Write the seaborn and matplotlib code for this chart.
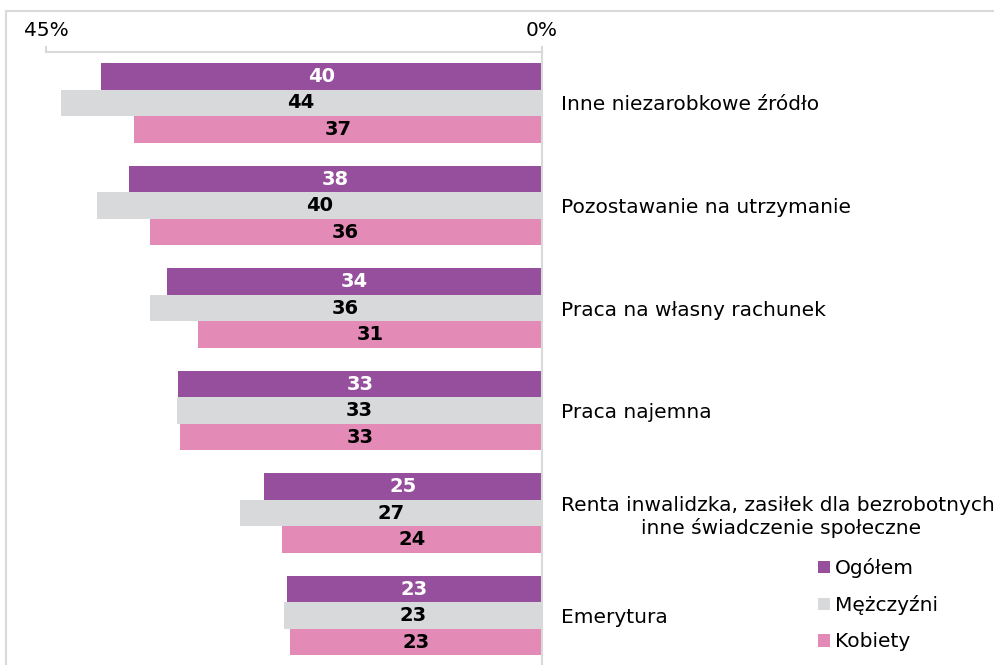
import pandas as pd
import matplotlib.pyplot as plt
import seaborn as sns
from matplotlib.patches import Rectangle

kategorie = ['Inne niezarobkowe źródło',
             'Pozostawanie na utrzymanie',
             'Praca na własny rachunek',
             'Praca najemna',
             'Renta inwalidzka, zasiłek dla bezrobotnych,\ninne świadczenie społeczne',
             'Emerytura']
serie = ['Ogółem', 'Mężczyźni', 'Kobiety']
ogolem = [40.0, 37.5, 34.0, 33.0, 25.2, 23.1]
mezczyzni = [43.7, 40.4, 35.6, 33.1, 27.4, 23.4]
kobiety = [37.0, 35.6, 31.2, 32.9, 23.6, 22.9]
kolory = ['#954F9C', '#D8D9DB', '#E38AB7']
kolory_etykiet = ['white', 'black', 'black']
ticki = [45, 0]

df = pd.DataFrame({
    'kategoria': kategorie * 3,
    'seria': [s for s in serie for _ in kategorie],
    'wartosc': ogolem + mezczyzni + kobiety,
})

sns.set_style('white')
plt.rcParams['font.family'] = ['DejaVu Sans']
plt.rcParams['text.color'] = 'black'

fig = plt.figure(figsize=(9.95, 6.65), dpi=100)
ax = fig.add_axes([46.3 / 995, -2 / 665, 495.4 / 995, 615.3 / 665])

sns.barplot(data=df, y='kategoria', x='wartosc', hue='seria', orient='h',
            palette=kolory, width=0.775, linewidth=0, saturation=1, ax=ax)

ax.set_xlim(45, 0)
ax.set_ylim(5.5, -0.5)
ax.set_xlabel('')
ax.set_ylabel('')

# value labels centred in each bar
for cont, kol in zip(ax.containers, kolory_etykiet):
    labels = [f'{b.get_width():.0f}' for b in cont]
    ax.bar_label(cont, labels=labels, label_type='center', color=kol,
                 fontsize=14, fontweight='bold')

# axis at the top, categories on the right
ax.xaxis.tick_top()
ax.set_xticks(ticks=ticki, labels=[f'{t}%' for t in ticki])
ax.tick_params(axis='x', length=4.5, width=1.5, color='#D9D9D9', pad=4,
               labelsize=14.5, labelcolor='black')
ax.yaxis.tick_right()
ax.set_yticks(range(len(kategorie)))
ax.set_yticklabels(kategorie, fontsize=14.5, color='black', multialignment='center')
for lab in ax.get_yticklabels():
    lab.set_horizontalalignment('left')
ax.tick_params(axis='y', length=0, pad=14)

for s in ['left', 'bottom']:
    ax.spines[s].set_visible(False)
for s in ['top', 'right']:
    ax.spines[s].set_color('#D9D9D9')
    ax.spines[s].set_linewidth(1.5)

handles, labels = ax.get_legend_handles_labels()
leg = ax.legend(handles, labels, loc='upper left',
                bbox_to_anchor=(808 / 995, 1 - 548 / 665),
                bbox_transform=fig.transFigure, frameon=False, fontsize=14.5,
                handlelength=0.6, handleheight=0.6, handletextpad=0.25,
                labelspacing=0.85, borderpad=0)
for t in leg.get_texts():
    t.set_color('black')

# outer frame
fig.patches.append(Rectangle((6.5 / 995, -0.1), 1.2, 1.1 - 10.5 / 665,
                             transform=fig.transFigure, fill=False,
                             edgecolor='#D9D9D9', linewidth=1.5))

plt.savefig('out.png', dpi=100)
